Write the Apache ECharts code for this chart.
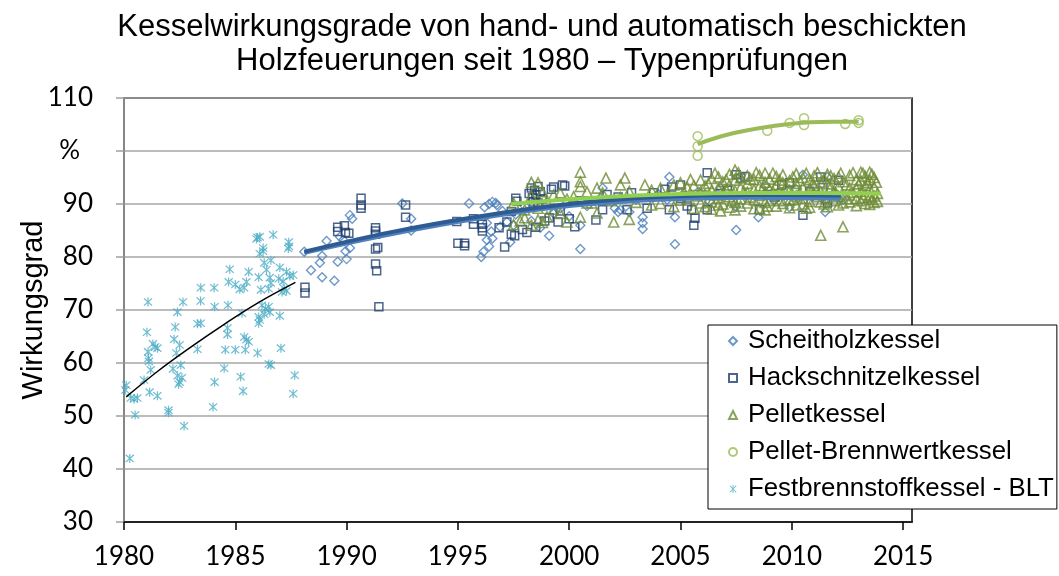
<!DOCTYPE html>
<html>
<head>
<meta charset="utf-8">
<script src="https://cdn.jsdelivr.net/npm/echarts@6/dist/echarts.min.js"></script>
<style>
  html, body { margin: 0; padding: 0; background: #fff; }
  #chart { width: 1059px; height: 576px; }
</style>
</head>
<body>
<div id="chart"></div>
<script>
// values: [year, efficiency %]
const scheitholz = [
  [1988.1, 81.0], [1988.4, 77.5], [1988.8, 78.9], [1988.9, 76.2], [1988.9, 80.2], [1989.1, 83.0],
  [1989.45, 75.5], [1989.6, 79.1], [1989.7, 83.8], [1989.85, 83.2], [1989.95, 81.1], [1990.0, 79.6],
  [1990.15, 81.7], [1990.15, 87.9], [1990.25, 87.2], [1992.5, 90.1], [1992.9, 87.2], [1992.9, 85.0],
  [1995.5, 90.1], [1996.05, 80.0], [1996.15, 81.0], [1996.3, 83.2], [1996.4, 82.0], [1996.5, 84.8],
  [1996.55, 83.5], [1996.2, 89.4], [1996.4, 90.0], [1996.55, 90.4], [1996.7, 90.2], [1996.75, 89.8],
  [1996.3, 86.4], [1996.9, 85.7], [1997.2, 86.6], [1997.35, 82.8], [1997.5, 86.0], [1997.0, 88.7],
  [1997.6, 88.0], [1998.0, 89.6], [1998.3, 86.8], [1998.7, 85.5], [1999.1, 84.0], [1999.3, 88.2],
  [1999.6, 89.2], [2000.0, 87.7], [2000.5, 86.0], [2000.5, 81.5], [2000.8, 89.6], [2001.5, 93.0],
  [2001.4, 91.1], [2001.7, 90.8], [2001.9, 90.4], [2002.05, 89.2], [2002.2, 88.5], [2002.3, 88.9],
  [2002.7, 88.5], [2003.3, 85.3], [2003.3, 86.4], [2003.3, 87.5], [2003.0, 90.8], [2003.6, 91.3],
  [2004.0, 91.9], [2004.5, 95.1], [2004.4, 90.8], [2004.75, 87.5], [2004.75, 82.4], [2005.2, 91.6],
  [2005.8, 92.3], [2006.3, 90.5], [2006.8, 93.0], [2007.5, 89.5], [2007.5, 85.1], [2007.9, 91.8],
  [2008.5, 87.5], [2008.8, 93.4], [2009.2, 90.6], [2009.9, 89.4], [2010.2, 92.8], [2010.5, 95.5],
  [2010.9, 91.3], [2011.5, 88.5], [2011.6, 95.1], [2011.9, 92.0], [2012.3, 90.8]
];

const hackschnitzel = [
  [1988.13, 73.2], [1988.13, 74.3], [1989.6, 85.6], [1989.6, 84.8], [1989.9, 85.9], [1989.95, 84.6],
  [1990.1, 84.5], [1990.65, 91.1], [1990.65, 89.8], [1990.65, 89.2], [1991.3, 85.5], [1991.3, 84.9],
  [1991.3, 84.3], [1991.3, 81.5], [1991.4, 81.8], [1991.3, 78.7], [1991.35, 77.4], [1991.45, 70.6],
  [1992.65, 89.8], [1992.65, 87.5], [1994.95, 86.7], [1995.0, 82.6], [1995.3, 82.1], [1995.3, 82.6],
  [1995.7, 87.2], [1995.7, 86.2], [1996.1, 86.2], [1996.1, 84.9], [1996.1, 85.5], [1996.85, 85.5],
  [1997.1, 81.9], [1997.2, 86.6], [1997.4, 84.3], [1997.4, 88.6], [1997.55, 84.0], [1997.6, 91.1],
  [1997.65, 90.5], [1997.9, 85.2], [1998.1, 84.6], [1998.2, 92.0], [1998.3, 93.0], [1998.35, 91.2],
  [1998.4, 90.4], [1998.45, 92.6], [1998.5, 91.7], [1998.6, 93.3], [1998.6, 90.2], [1998.5, 85.6],
  [1998.7, 92.3], [1998.8, 91.0], [1998.9, 86.8], [1999.1, 87.4], [1999.2, 92.8], [1999.3, 93.2],
  [1999.5, 86.6], [1999.6, 88.7], [1999.7, 93.6], [1999.8, 93.4], [2000.0, 87.2], [2000.25, 85.7],
  [2000.5, 90.6], [2001.2, 87.0], [2001.5, 88.9], [2001.7, 91.8], [2002.2, 91.3], [2002.6, 88.9],
  [2002.8, 92.1], [2003.5, 89.2], [2003.8, 92.1], [2004.3, 92.8], [2004.5, 88.9], [2004.6, 93.2],
  [2005.0, 93.6], [2005.0, 91.1], [2005.3, 89.6], [2005.5, 88.9], [2005.6, 86.0], [2005.65, 87.3],
  [2006.2, 95.9], [2006.2, 88.9], [2006.8, 92.0], [2007.1, 92.6], [2007.5, 95.5], [2007.7, 94.9],
  [2007.9, 95.2], [2008.55, 88.9], [2008.9, 91.8], [2009.25, 91.3], [2009.55, 93.6], [2009.9, 94.0],
  [2010.5, 87.9], [2010.8, 92.4], [2011.3, 95.1], [2011.4, 93.1], [2011.5, 91.0], [2011.6, 90.2],
  [2012.1, 94.5]
];

const pellet = [
  [1997.5, 90.2], [1997.5, 86.1], [1997.8, 86.8], [1998.0, 87.4], [1998.0, 88.9], [1998.3, 86.0],
  [1998.3, 94.1], [1998.3, 91.5], [1998.6, 94.0], [1998.6, 89.2], [1998.6, 87.0], [1998.8, 92.3],
  [1998.8, 86.5], [1999.0, 87.6], [1999.0, 90.5], [1999.3, 91.7], [1999.3, 89.0], [1999.6, 92.1],
  [1999.6, 88.2], [1999.9, 86.6], [1999.9, 90.9], [2000.2, 91.4], [2000.5, 96.0], [2000.5, 94.2],
  [2000.5, 93.3], [2000.5, 87.5], [2000.8, 90.2], [2000.8, 92.3], [2001.0, 90.2], [2001.25, 93.0],
  [2001.25, 88.3], [2001.5, 92.1], [2001.65, 94.9], [2001.9, 90.6], [2002.0, 86.6], [2002.3, 93.6],
  [2002.3, 91.2], [2002.5, 94.9], [2002.7, 87.1], [2002.7, 92.4], [2003.0, 90.3], [2003.4, 93.6],
  [2003.7, 92.6], [2003.7, 89.8], [2004.1, 93.0], [2004.1, 90.1], [2004.4, 91.7], [2004.7, 93.6],
  [2004.7, 89.5], [2005.0, 94.0], [2005.0, 90.7], [2005.3, 93.2], [2005.3, 91.0], [2005.6, 93.5],
  [2005.6, 89.2], [2005.9, 92.3], [2005.9, 94.5], [2005.9, 90.2], [2006.1, 93.4], [2006.1, 89.5],
  [2006.1, 91.8], [2006.4, 94.8], [2006.4, 92.6], [2006.4, 90.4], [2006.4, 89.0], [2006.7, 95.1],
  [2006.7, 93.0], [2006.7, 91.1], [2006.7, 89.8], [2006.9, 94.2], [2006.9, 92.0], [2006.9, 90.0],
  [2007.2, 95.6], [2007.2, 93.6], [2007.2, 91.4], [2007.2, 89.4], [2007.45, 96.4], [2007.45, 94.5],
  [2007.45, 92.5], [2007.45, 90.3], [2007.45, 88.9], [2007.7, 94.9], [2007.7, 93.1], [2007.7, 91.0],
  [2007.7, 89.6], [2008.0, 95.3], [2008.0, 93.9], [2008.0, 92.2], [2008.0, 90.2], [2008.3, 94.6],
  [2008.3, 92.7], [2008.3, 90.8], [2008.3, 89.1], [2008.55, 95.4], [2008.55, 93.4], [2008.55, 91.6],
  [2008.55, 89.2], [2008.8, 95.8], [2008.8, 94.1], [2008.8, 92.2], [2008.8, 90.3], [2008.8, 88.9],
  [2009.0, 94.7], [2009.0, 92.8], [2009.0, 90.6], [2009.3, 95.2], [2009.3, 93.6], [2009.3, 91.8],
  [2009.3, 89.6], [2009.6, 95.5], [2009.6, 94.0], [2009.6, 92.0], [2009.6, 90.1], [2009.9, 94.4],
  [2009.9, 92.6], [2009.9, 90.7], [2009.9, 89.3], [2010.2, 95.7], [2010.2, 93.9], [2010.2, 91.5],
  [2010.2, 89.8], [2010.5, 95.0], [2010.5, 93.2], [2010.5, 91.1], [2010.5, 90.0], [2010.8, 94.6],
  [2010.8, 92.9], [2010.8, 90.5], [2010.8, 89.4], [2011.0, 95.3], [2011.0, 93.5], [2011.0, 91.9],
  [2011.3, 84.1], [2011.3, 94.1], [2011.3, 92.3], [2011.3, 90.4], [2011.6, 95.6], [2011.6, 93.8],
  [2011.6, 91.2], [2011.6, 89.5], [2011.9, 94.8], [2011.9, 92.5], [2011.9, 90.6], [2012.1, 95.1],
  [2012.1, 93.3], [2012.1, 91.4], [2012.1, 89.8], [2012.3, 85.7], [2012.3, 94.2], [2012.3, 90.2],
  [2012.6, 95.4], [2012.6, 93.0], [2012.6, 91.7], [2012.6, 90.4], [2012.9, 94.6], [2012.9, 92.9],
  [2012.9, 91.0], [2012.9, 89.7], [2013.1, 96.0], [2013.1, 94.4], [2013.1, 92.4], [2013.1, 90.6],
  [2013.3, 95.2], [2013.3, 93.5], [2013.3, 91.8], [2013.3, 90.1], [2013.5, 96.0], [2013.5, 94.6],
  [2013.5, 92.8], [2013.5, 91.3], [2013.5, 89.9], [2013.7, 95.0], [2013.7, 93.2], [2013.7, 91.5],
  [2013.7, 90.3], [2013.85, 92.0], [2013.85, 90.5],
  // second pass over the dense band
  [2005.15, 92.4], [2005.45, 94.6], [2005.75, 91.5], [2006.25, 93.9], [2006.55, 91.7], [2006.55, 95.8],
  [2006.8, 88.7], [2007.05, 94.6], [2007.05, 92.7], [2007.3, 90.6], [2007.6, 95.9], [2007.85, 92.3],
  [2008.15, 94.7], [2008.15, 91.3], [2008.4, 95.9], [2008.7, 93.0], [2008.9, 89.6], [2009.15, 95.8],
  [2009.15, 92.4], [2009.45, 94.5], [2009.45, 90.6], [2009.75, 93.3], [2010.05, 95.1], [2010.05, 90.8],
  [2010.35, 94.4], [2010.35, 92.2], [2010.65, 95.8], [2010.65, 89.2], [2010.95, 93.9], [2011.15, 95.9],
  [2011.15, 91.4], [2011.45, 94.8], [2011.45, 90.0], [2011.75, 93.2], [2011.75, 95.3], [2012.0, 91.9],
  [2012.2, 95.8], [2012.45, 93.6], [2012.45, 91.0], [2012.75, 95.9], [2012.75, 92.2], [2013.0, 93.8],
  [2013.2, 95.8], [2013.2, 91.2], [2013.4, 94.0], [2013.6, 95.6], [2013.6, 90.9], [2013.8, 94.1]
];

const brennwert = [
  [2005.77, 102.8], [2005.77, 100.9], [2005.77, 99.1], [2008.9, 103.8], [2009.9, 105.3],
  [2010.55, 104.9], [2010.55, 106.2], [2012.4, 105.1], [2013.0, 105.3], [2013.0, 105.8]
];

const blt = [
  [1980.26, 42.0], [1980.1, 55.8], [1980.06, 54.9], [1980.3, 53.4], [1980.45, 53.2], [1980.6, 53.4],
  [1980.5, 50.2], [1980.9, 56.8], [1981.08, 71.5], [1981.03, 65.8], [1981.3, 63.6], [1981.4, 63.0],
  [1981.5, 62.8], [1981.08, 62.1], [1981.1, 60.9], [1981.12, 60.3], [1981.2, 58.7], [1981.15, 54.5],
  [1981.5, 53.8], [1982.0, 50.6], [1982.0, 51.1], [1982.7, 48.1], [1982.65, 71.5], [1982.4, 69.6],
  [1982.3, 66.8], [1982.25, 64.5], [1982.5, 63.4], [1982.35, 61.9], [1982.2, 58.9], [1982.55, 59.6],
  [1982.4, 57.6], [1982.6, 57.2], [1982.5, 56.4], [1982.45, 56.0], [1983.45, 74.2], [1983.44, 71.7],
  [1983.3, 67.4], [1983.45, 67.5], [1983.3, 62.6], [1984.0, 51.7], [1984.07, 56.4], [1984.5, 59.0],
  [1984.05, 74.2], [1984.07, 70.6], [1984.67, 70.9], [1984.75, 77.7], [1984.7, 75.3], [1985.0, 74.8],
  [1985.2, 73.9], [1985.4, 74.2], [1985.5, 75.3], [1985.6, 77.2], [1984.65, 66.6], [1984.65, 65.4],
  [1984.55, 62.5], [1985.0, 62.5], [1985.45, 62.5], [1985.4, 64.9], [1985.5, 64.4], [1985.6, 64.0],
  [1985.24, 57.4], [1985.35, 54.7], [1985.3, 69.4], [1986.0, 61.9], [1986.5, 59.8], [1986.6, 59.6],
  [1987.05, 62.8], [1987.0, 68.9], [1986.05, 68.7], [1986.05, 67.5], [1986.1, 68.1], [1986.2, 70.9],
  [1986.35, 70.2], [1986.5, 70.6], [1986.55, 69.6], [1986.3, 69.2], [1986.15, 73.8], [1986.05, 76.2],
  [1986.3, 78.9], [1986.4, 77.6], [1986.55, 76.1], [1986.6, 75.1], [1986.5, 74.0], [1986.0, 83.7],
  [1986.1, 83.8], [1985.95, 83.4], [1986.25, 81.7], [1986.25, 81.1], [1986.1, 80.6], [1986.7, 84.2],
  [1986.6, 79.4], [1987.0, 78.0], [1986.95, 75.9], [1987.15, 75.4], [1987.3, 77.2], [1987.45, 76.4],
  [1987.2, 74.0], [1987.1, 73.4], [1987.3, 73.6], [1987.6, 76.6], [1987.4, 82.8], [1987.42, 82.0],
  [1987.38, 81.6], [1987.67, 57.7], [1987.6, 54.2]
];

// trend lines, read at a few points along each curve
const scheitTrend = [[1988.1, 80.8], [1992, 84.3], [1996, 87.3], [2000, 89.6], [2004, 90.8], [2008, 91.2], [2012.2, 91.0]];
const hackTrend = [[1988.1, 81.0], [1992, 84.7], [1996, 87.7], [2000, 90.0], [2004, 91.3], [2008, 91.7], [2012.2, 91.6]];
const pelletTrend = [[1997.4, 90.0], [2000, 90.9], [2003, 91.6], [2006, 92.0], [2010, 92.1], [2014, 92.0]];
const brennTrend = [[2005.77, 101.3], [2007.4, 103.4], [2009.9, 105.1], [2011.85, 105.5], [2013.0, 105.5]];
const bltTrend = [[1980.1, 53.6], [1981.5, 58.4], [1983, 63.0], [1984.5, 67.3], [1986, 71.3], [1987.7, 75.2]];

const xTicks = [1980, 1985, 1990, 1995, 2000, 2005, 2010, 2015];
const names = ["Scheitholzkessel", "Hackschnitzelkessel", "Pelletkessel", "Pellet-Brennwertkessel", "Festbrennstoffkessel - BLT"];

const asterisk = "path://M4.4 0L5.6 0L5.6 10L4.4 10ZM0.5 1.4L1.4 0.5L9.5 8.6L8.6 9.5ZM8.6 0.5L9.5 1.4L1.4 9.5L0.5 8.6Z";
const numFont = "Lato, 'Open Sans', sans-serif";
const txtFont = "'Liberation Sans', Arial, sans-serif";

function hollow(color, w) {
  return { color: "rgba(0,0,0,0)", borderColor: color, borderWidth: w };
}

function trend(data, color, width) {
  return {
    type: "line", data: data, smooth: 0.4, showSymbol: false, silent: true, z: 5,
    lineStyle: { color: color, width: width }
  };
}

const chart = echarts.init(document.getElementById("chart"));

const option = {
  animation: false,
  backgroundColor: "#fff",
  title: {
    text: "Kesselwirkungsgrade von hand- und automatisch beschickten\nHolzfeuerungen seit 1980 – Typenprüfungen",
    left: 542,
    top: 6,
    padding: [4, 0, 4, 0],
    textAlign: "center",
    textStyle: { fontFamily: txtFont, fontSize: 31, fontWeight: "normal", color: "#000", lineHeight: 34 }
  },
  grid: {
    left: 124, right: 147, top: 98, bottom: 54,
    show: true, borderColor: "#000", borderWidth: 1.5, containLabel: false
  },
  legend: {
    data: names,
    orient: "vertical",
    left: 708,
    top: 325,
    padding: [3, 3, 7, 20],
    itemGap: 11,
    itemWidth: 8,
    itemHeight: 8,
    backgroundColor: "#fff",
    borderColor: "#000",
    borderWidth: 1,
    textStyle: { fontFamily: txtFont, fontSize: 25.8, color: "#000", lineHeight: 24, padding: [0, 0, 0, 6] }
  },
  xAxis: {
    type: "value",
    min: 1980,
    max: 2015.4,
    interval: 5,
    axisLine: { lineStyle: { color: "#000", width: 1.5 } },
    axisTick: { show: true, length: 8, customValues: xTicks, lineStyle: { color: "#000", width: 1.5 } },
    axisLabel: {
      customValues: xTicks, margin: 22, fontFamily: numFont, fontSize: 26, color: "#000",
      formatter: (v) => String(v)
    },
    splitLine: { show: false }
  },
  yAxis: {
    type: "value",
    min: 30,
    max: 110,
    interval: 10,
    name: "Wirkungsgrad",
    nameLocation: "middle",
    nameGap: 76,
    nameMoveOverlap: false,
    nameRotate: 90,
    nameTextStyle: { fontFamily: txtFont, fontSize: 29, color: "#000" },
    axisLine: { show: true, lineStyle: { color: "#868686", width: 2 } },
    axisTick: { show: true, length: 8, lineStyle: { color: "#a0a0a0", width: 1.5 } },
    axisLabel: {
      margin: 31,
      fontFamily: numFont,
      fontSize: 26,
      color: "#000",
      formatter: (v) => (v === 100 ? "{p|%}" : String(v)),
      rich: { p: { fontFamily: numFont, fontSize: 26, color: "#000", padding: [0, 13, 0, 0] } }
    },
    splitLine: { show: true, lineStyle: { color: "#a6a6a6", width: 1.5 } }
  },
  series: [
    { name: names[0], type: "scatter", data: scheitholz, symbol: "diamond", symbolSize: 9, itemStyle: hollow("#4a7ebb", 1.4) },
    { name: names[1], type: "scatter", data: hackschnitzel, symbol: "rect", symbolSize: 8, itemStyle: hollow("#1f3f6e", 1.5) },
    { name: names[2], type: "scatter", data: pellet, symbol: "triangle", symbolSize: 10, itemStyle: hollow("#6f8c36", 1.6) },
    { name: names[3], type: "scatter", data: brennwert, symbol: "circle", symbolSize: 9, itemStyle: hollow("#9bbb59", 1.5) },
    { name: names[4], type: "scatter", data: blt, symbol: asterisk, symbolSize: 9, itemStyle: { color: "#4bacc6" } },
    trend(scheitTrend, "#4f81bd", 4),
    trend(hackTrend, "#2f5b93", 4),
    trend(pelletTrend, "#92d050", 4),
    trend(brennTrend, "#9bbb59", 4),
    trend(bltTrend, "#000", 1.5)
  ]
};

chart.setOption(option);
</script>
</body>
</html>
